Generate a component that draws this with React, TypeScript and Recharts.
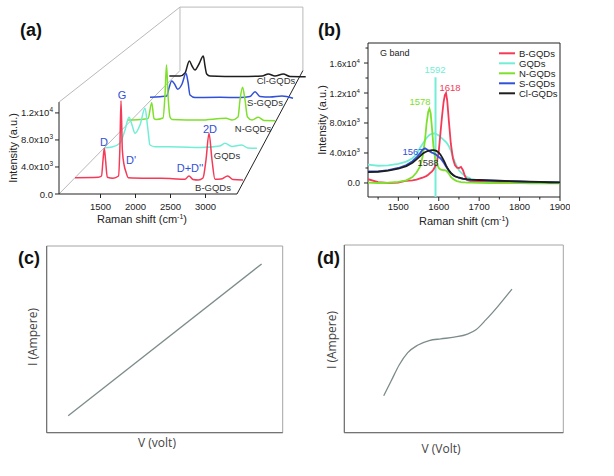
import React from "react";
import { LineChart, Line, XAxis, YAxis, ReferenceLine, ReferenceArea } from "recharts";

const FONT = "'Liberation Sans', Arial, Helvetica, sans-serif";
const FONT_IV = "'Open Sans', 'Liberation Sans', sans-serif";

// ---------- (a) waterfall: [Raman shift (cm-1), intensity (a.u.)] per sample ----------
const wfBGQDs = [
  [1136, 2412], [1469, 2472], [1514, 2664], [1536, 5032], [1554, 6764], [1572, 5032], [1597, 2472],
  [1679, 2324], [1757, 2664], [1776, 6512], [1793, 13808], [1812, 6512], [1840, 4144], [1864, 3256],
  [1897, 2412], [2279, 2324], [2493, 2294], [2707, 2176], [2764, 2664], [2822, 2146], [2897, 2072],
  [2964, 2368], [3007, 5032], [3050, 8984], [3093, 5032], [3136, 2176], [3221, 2220], [3317, 2664],
  [3393, 2146], [3536, 2072],
];
const wfGQDs = [
  [1170, 2676], [1278, 2788], [1402, 3428], [1479, 5506], [1540, 7536], [1587, 6305], [1633, 4978],
  [1710, 6305], [1787, 8974], [1833, 5506], [1864, 3108], [1941, 2836], [2327, 2788], [2636, 2708],
  [2944, 2948], [3021, 3380], [3129, 2868], [3279, 3108], [3376, 2628], [3515, 2580],
];
const wfNGQDs = [
  [1157, 3256], [1356, 3342], [1489, 3514], [1550, 6226], [1588, 3514], [1621, 3342], [1737, 3600],
  [1770, 7548], [1795, 12698], [1820, 7548], [1853, 3771], [1886, 3342], [2350, 3256], [2781, 3548],
  [2881, 3256], [2980, 3771], [3013, 6690], [3055, 8870], [3096, 6690], [3137, 3771], [3212, 3256],
  [3316, 3719], [3411, 3170], [3593, 3136],
];
const wfSGQDs = [
  [1179, 3574], [1356, 3684], [1475, 3812], [1515, 5281], [1563, 6565], [1613, 6015], [1669, 5042],
  [1746, 6015], [1816, 7978], [1852, 6382], [1887, 3996], [1976, 3537], [2419, 3574], [2773, 3537],
  [2950, 3721], [3039, 4602], [3127, 3721], [3304, 3629], [3517, 3812], [3712, 3390],
];
const wfClGQDs = [
  [1200, 4156], [1402, 4156], [1496, 4742], [1577, 7086], [1628, 6109], [1684, 5328], [1760, 6500],
  [1841, 8063], [1873, 6109], [1905, 4547], [1967, 4156], [2533, 4058], [2948, 4156], [3067, 4547],
  [3193, 4156], [3350, 4547], [3476, 4058], [3772, 4019],
];
const wfTicksX = [1500, 2000, 2500, 3000];
const wfTicksY = [0, 4000, 8000, 12000];

// ---------- (b) G band ----------
const gShift = [
  1425, 1450, 1475, 1500, 1520, 1535, 1545, 1554, 1560, 1566, 1570, 1574, 1577, 1580, 1583, 1587,
  1591, 1595, 1600, 1604, 1608, 1612, 1615, 1618, 1621, 1625, 1630, 1635, 1640, 1645, 1650, 1655,
  1660, 1665, 1670, 1680, 1700, 1725, 1750, 1775, 1800, 1825, 1850, 1875, 1900,
];
const gB = [
  500, 100, 0, 50, 300, 350, 450, 600, 700, 840, 950, 1100, 1250, 1400, 1510, 1800,
  2200, 2620, 4200, 6500, 8800, 10800, 11700, 12000, 11000, 8300, 5200, 3300, 2400, 2050, 2000, 2150,
  1700, 900, 400, 200, 150, 100, 120, 80, 60, 80, 40, 30, 20,
];
const gGQD = [
  2450, 2300, 2350, 2550, 2850, 3300, 3800, 4700, 5200, 5700, 6000, 6250, 6400, 6500, 6550, 6620,
  6600, 6500, 6350, 6150, 5950, 5750, 5600, 5450, 5250, 4900, 4300, 3500, 2800, 2170, 1700, 1400,
  1150, 950, 800, 550, 350, 280, 220, 180, 150, 120, 100, 80, 60,
];
const gN = [
  60, 0, 30, 150, 350, 800, 1400, 2200, 3500, 5700, 8000, 9500, 9900, 9300, 7500, 4800,
  3300, 2600, 2000, 1800, 1750, 1700, 1700, 1650, 1500, 1250, 800, 550, 380, 250, 170, 120,
  90, 70, 60, 40, 20, 0, -20, -30, -30, -40, -50, -50, -60,
];
const gS = [
  1550, 1550, 1700, 2000, 2400, 2900, 3400, 4000, 4450, 4620, 4500, 4350, 4250, 4150, 4050, 3960,
  3850, 3700, 3450, 3300, 3050, 2750, 2450, 2200, 1950, 1650, 1300, 1050, 900, 800, 700, 620,
  560, 500, 460, 420, 380, 330, 280, 250, 200, 150, 120, 90, 70,
];
const gCl = [
  1450, 1500, 1650, 1900, 2250, 2700, 3150, 3600, 3900, 4100, 4200, 4280, 4320, 4350, 4380, 4380,
  4350, 4250, 4050, 3800, 3450, 3050, 2700, 2350, 2050, 1700, 1350, 1100, 900, 800, 700, 640,
  580, 540, 500, 450, 400, 350, 300, 260, 220, 180, 140, 100, 80,
];
const gMarker = 1592;
const gTicksX = [1450, 1500, 1550, 1600, 1650, 1700, 1750, 1800, 1850, 1900];
const gTicksY = [0, 2000, 4000, 6000, 8000, 10000, 12000, 14000, 16000, 18000];

// ---------- (c) linear I-V ----------
const ivcV = [0.5, 5];
const ivcI = [0.5, 5];

// ---------- (d) non-linear I-V ----------
const ivdV = [-1.66, -1.44, -1.18, -0.92, -0.62, -0.26, 0.1, 0.51, 0.92, 1.18, 1.49, 1.85, 2.29];
const ivdI = [-1.82, -1.4, -0.9, -0.54, -0.32, -0.18, -0.13, -0.08, 0.01, 0.14, 0.44, 0.83, 1.35];

// colours
const C_RED = "#f43a57";
const C_CYAN = "#72eed6";
const C_GREEN = "#7ee02c";
const C_BLUE = "#3150d8";
const C_BLACK = "#1e1e1e";
const C_IV = "#7d8b8b";

// perspective used for the waterfall (front plane = depth 0)
const VP_X = 6493;
const VP_Y = 59052;
const DEPTH_K = 0.08;
const BACK_DEPTH = 5.6;
const BOX_X0 = 907;
const BOX_X1 = 3450;
const BOX_TOP = 13600;
const project = (u: number, v: number, d: number) => {
  const s = 1 / (1 + DEPTH_K * d);
  return { x: VP_X + (u - VP_X) * s, y: VP_Y + (v - VP_Y) * s };
};

const sci = (v: number): [string, string] => {
  if (v === 0) return ["0.0", ""];
  const e = Math.floor(Math.log10(Math.abs(v)) + 1e-9);
  return [(v / Math.pow(10, e)).toFixed(1) + "x10", String(e)];
};

const makeYTick = (gap: number, majorStep: number, fs: number) => (p: any) => {
  const { x, y, payload } = p;
  const v = payload.value;
  const major = v % majorStep === 0;
  const [m, e] = sci(v);
  return (
    <g>
      <line x1={x - (major ? 4 : 2.5)} x2={x} y1={y} y2={y} stroke="#222" />
      {major && (
        <text x={x - gap} y={y + 3.5} textAnchor="end" fontSize={fs} fontFamily={FONT} fill="#222">
          {m}
          {e && (
            <tspan dy={-4} fontSize={fs * 0.68}>
              {e}
            </tspan>
          )}
        </text>
      )}
    </g>
  );
};

const makeXTick = (dy: number, majorStep: number) => (p: any) => {
  const { x, y, payload } = p;
  const v = payload.value;
  const major = v % majorStep === 0;
  return (
    <g>
      <line x1={x} x2={x} y1={y} y2={y + (major ? 4 : 2.5)} stroke="#222" />
      {major && (
        <text x={x} y={y + dy} textAnchor="middle" fontSize={9.5} fontFamily={FONT} fill="#222">
          {v}
        </text>
      )}
    </g>
  );
};

function Waterfall() {
  const series = [
    { pts: wfClGQDs, d: 4, color: C_BLACK },
    { pts: wfSGQDs, d: 3, color: C_BLUE },
    { pts: wfNGQDs, d: 2, color: C_GREEN },
    { pts: wfGQDs, d: 1, color: C_CYAN },
    { pts: wfBGQDs, d: 0, color: C_RED },
  ];
  const FLB = project(BOX_X0, 0, 0);
  const FLT = project(BOX_X0, BOX_TOP, 0);
  const FRB = project(BOX_X1, 0, 0);
  const BLB = project(BOX_X0, 0, BACK_DEPTH);
  const BLT = project(BOX_X0, BOX_TOP, BACK_DEPTH);
  const BRT = project(BOX_X1, BOX_TOP, BACK_DEPTH);
  const BRB = project(BOX_X1, 0, BACK_DEPTH);
  const grey = "#b9b9b9";
  return (
    <LineChart width={320} height={240} margin={{ top: 6, right: 10, left: 9, bottom: 26 }}>
      <XAxis
        type="number"
        dataKey="x"
        domain={[907, 4493]}
        allowDataOverflow
        ticks={wfTicksX}
        interval={0}
        axisLine={false}
        tickLine={false}
        tickSize={0}
        tickMargin={0}
        height={20}
        tick={makeXTick(16, 500)}
      />
      <YAxis
        type="number"
        domain={[0, 27824]}
        allowDataOverflow
        ticks={wfTicksY}
        interval={0}
        axisLine={false}
        tickLine={false}
        tickSize={0}
        tickMargin={0}
        width={50}
        tick={makeYTick(6, 4000, 9.5)}
      />
      <ReferenceLine segment={[FLT, BLT]} stroke={grey} />
      <ReferenceLine segment={[BLT, BRT]} stroke={grey} />
      <ReferenceLine segment={[BRT, BRB]} stroke={grey} />
      <ReferenceLine segment={[BLB, BLT]} stroke={grey} />
      <ReferenceLine segment={[FLB, BLB]} stroke={grey} />
      <ReferenceLine segment={[FRB, BRB]} stroke="#222" />
      <ReferenceLine segment={[FLB, FRB]} stroke="#222" />
      <ReferenceLine segment={[FLB, FLT]} stroke="#222" />
      {series.map((s, i) => (
        <Line
          key={i}
          data={s.pts.map(([u, v]) => project(u, v, s.d))}
          dataKey="y"
          type="monotone"
          stroke={s.color}
          strokeWidth={1.5}
          dot={false}
          isAnimationActive={false}
        />
      ))}
    </LineChart>
  );
}

function GBand() {
  const rows = gShift.map((x, i) => ({ x, b: gB[i], q: gGQD[i], n: gN[i], s: gS[i], cl: gCl[i] }));
  const lines = [
    { key: "q", color: C_CYAN },
    { key: "b", color: C_RED },
    { key: "n", color: C_GREEN },
    { key: "s", color: C_BLUE },
    { key: "cl", color: C_BLACK },
  ];
  return (
    <LineChart width={270} height={200} data={rows} margin={{ top: 13, right: 10, left: 8, bottom: 3 }}>
      <XAxis
        type="number"
        dataKey="x"
        domain={[1425, 1900]}
        allowDataOverflow
        ticks={gTicksX}
        interval={0}
        axisLine={false}
        tickLine={false}
        tickSize={0}
        tickMargin={0}
        height={30}
        tick={makeXTick(13, 100)}
      />
      <YAxis
        type="number"
        domain={[-1870, 18670]}
        allowDataOverflow
        ticks={gTicksY}
        interval={0}
        axisLine={false}
        tickLine={false}
        tickSize={0}
        tickMargin={0}
        width={60}
        tick={makeYTick(8, 4000, 9)}
      />
      <ReferenceLine
        segment={[{ x: gMarker, y: -1870 }, { x: gMarker, y: 14100 }]}
        stroke={C_CYAN}
        strokeWidth={2}
      />
      {lines.map((l) => (
        <Line
          key={l.key}
          dataKey={l.key}
          type="linear"
          stroke={l.color}
          strokeWidth={1.8}
          dot={false}
          isAnimationActive={false}
        />
      ))}
      <ReferenceArea x1={1425} x2={1900} y1={-1870} y2={18670} fill="none" fillOpacity={0} stroke="#222" strokeWidth={1} />
    </LineChart>
  );
}

function IV(props: {
  V: number[];
  I: number[];
  xDomain: [number, number];
  yDomain: [number, number];
  xTicks: number[];
  yTicks: number[];
  margin: { top: number; right: number; left: number; bottom: number };
}) {
  const rows = props.V.map((v, i) => ({ v, i: props.I[i] }));
  return (
    <LineChart width={300} height={240} data={rows} margin={props.margin}>
      <ReferenceArea
        x1={props.xDomain[0]}
        x2={props.xDomain[1]}
        y1={props.yDomain[0]}
        y2={props.yDomain[1]}
        fill="none"
        fillOpacity={0}
        stroke="#a4a4a4"
      />
      <XAxis
        type="number"
        dataKey="v"
        domain={props.xDomain}
        allowDataOverflow
        ticks={props.xTicks}
        interval={0}
        tick={false}
        tickSize={3}
        height={20}
        stroke="#666"
      />
      <YAxis
        type="number"
        domain={props.yDomain}
        allowDataOverflow
        ticks={props.yTicks}
        interval={0}
        tick={false}
        tickSize={3}
        width={20}
        stroke="#666"
      />
      <Line dataKey="i" type="monotone" stroke={C_IV} strokeWidth={1.3} dot={false} isAnimationActive={false} />
    </LineChart>
  );
}

const sup = (t: string) => (
  <tspan dy={-4} fontSize={7}>
    {t}
  </tspan>
);

export default function App() {
  const abs = (left: number, top: number): React.CSSProperties => ({ position: "absolute", left, top });
  const legend = [
    { name: "B-GQDs", color: C_RED },
    { name: "GQDs", color: C_CYAN },
    { name: "N-GQDs", color: C_GREEN },
    { name: "S-GQDs", color: C_BLUE },
    { name: "Cl-GQDs", color: C_BLACK },
  ];
  return (
    <div style={{ position: "absolute", left: 0, top: 0, width: 614, height: 476, background: "#fff", overflow: "hidden" }}>
      <div style={abs(0, 0)}>
        <Waterfall />
      </div>
      <div style={abs(300, 30)}>
        <GBand />
      </div>
      <div style={abs(0, 240)}>
        <IV
          V={ivcV}
          I={ivcI}
          xDomain={[0, 5.49]}
          yDomain={[0, 5.53]}
          xTicks={[0, 1, 2, 3, 4, 5]}
          yTicks={[0, 1, 2, 3, 4, 5]}
          margin={{ top: 6, right: 17.3, left: 26.7, bottom: 27.3 }}
        />
      </div>
      <div style={abs(300, 240)}>
        <IV
          V={ivdV}
          I={ivdI}
          xDomain={[-2.874, 3.87]}
          yDomain={[-2.92, 2.66]}
          xTicks={[-2, -1, 0, 1, 2, 3]}
          yTicks={[-2, -1, 0, 1, 2]}
          margin={{ top: 5, right: 36.7, left: 24.3, bottom: 27.3 }}
        />
      </div>
      <svg width={614} height={476} style={{ position: "absolute", left: 0, top: 0, pointerEvents: "none" }} fontFamily={FONT}>
        {/* (a) */}
        <text x={20} y={36} fontSize={18} fontWeight="bold" fill="#111">(a)</text>
        <text x={17} y={148} fontSize={11} fill="#222" textAnchor="middle" transform="rotate(-90 17 148)">Intensity (a.u.)</text>
        <text x={142} y={223} fontSize={11} fill="#222" textAnchor="middle">
          Raman shift (cm{sup("-1")}<tspan dy={4}>)</tspan>
        </text>
        <g fill={C_BLUE} fontSize={11} textAnchor="middle">
          <text x={122} y={99}>G</text>
          <text x={104} y={146}>D</text>
          <text x={131} y={164}>D'</text>
          <text x={210} y={133}>2D</text>
          <text x={190} y={172}>D+D''</text>
        </g>
        <g fill="#333" fontSize={9.5} textAnchor="middle">
          <text x={213} y={191}>B-GQDs</text>
          <text x={227} y={159}>GQDs</text>
          <text x={253} y={132}>N-GQDs</text>
          <text x={265} y={106}>S-GQDs</text>
          <text x={276} y={84}>Cl-GQDs</text>
        </g>
        {/* (b) */}
        <text x={318} y={36} fontSize={18} fontWeight="bold" fill="#111">(b)</text>
        <text x={326} y={120} fontSize={11} fill="#222" textAnchor="middle" transform="rotate(-90 326 120)">Intensity (a.u.)</text>
        <text x={464} y={225} fontSize={11} fill="#222" textAnchor="middle">
          Raman shift (cm{sup("-1")}<tspan dy={4}>)</tspan>
        </text>
        <text x={380} y={56} fontSize={9} fill="#222">G band</text>
        {legend.map((l, i) => (
          <g key={l.name}>
            <line x1={499} x2={515} y1={53.3 + 10 * i} y2={53.3 + 10 * i} stroke={l.color} strokeWidth={2} />
            <text x={519} y={56.8 + 10 * i} fontSize={9.5} fill="#222">{l.name}</text>
          </g>
        ))}
        <g fontSize={9.5} textAnchor="middle">
          <text x={435} y={72.5} fill={C_CYAN}>1592</text>
          <text x={450} y={91} fill={C_RED}>1618</text>
          <text x={420} y={105} fill={C_GREEN}>1578</text>
          <text x={413} y={154.5} fill={C_BLUE}>1567</text>
          <text x={428} y={165.5} fill="#333">1588</text>
        </g>
        {/* (c) */}
        <text x={18} y={264} fontSize={18} fontWeight="bold" fill="#111">(c)</text>
        <g fontFamily={FONT_IV} fontSize={12} fill="#444" textAnchor="middle">
          <text x={37} y={337} transform="rotate(-90 37 337)">I (Ampere)</text>
          <text x={157} y={447}>V (volt)</text>
        </g>
        {/* (d) */}
        <text x={317} y={264} fontSize={18} fontWeight="bold" fill="#111">(d)</text>
        <g fontFamily={FONT_IV} fontSize={12} fill="#444" textAnchor="middle">
          <text x={336} y={340} transform="rotate(-90 336 340)">I (Ampere)</text>
          <text x={441} y={453}>V (Volt)</text>
        </g>
      </svg>
    </div>
  );
}
